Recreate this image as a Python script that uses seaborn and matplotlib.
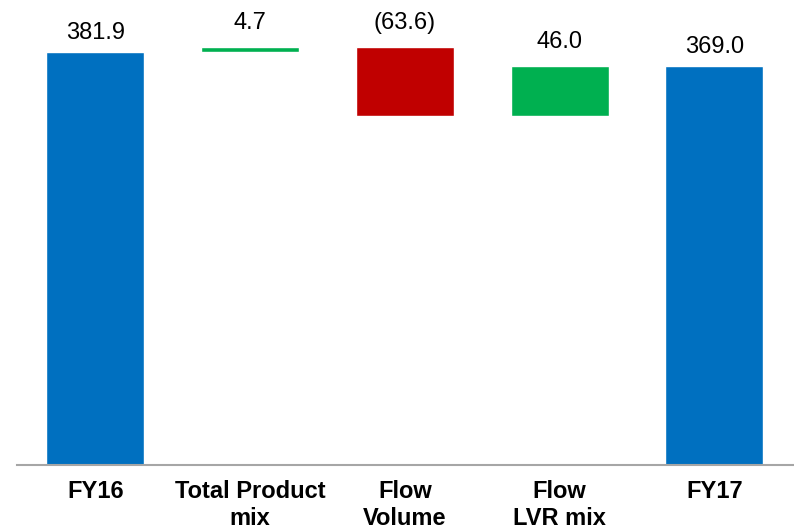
"""
Waterfall chart: FY16 -> FY17 bridge
"""

import numpy as np
import pandas as pd
import matplotlib
matplotlib.use("Agg")
import matplotlib.pyplot as plt
import seaborn as sns

# Chart data
labels = ["FY16", "Total Product\nmix", "Flow\nVolume", "Flow\nLVR mix", "FY17"]
values = [381.9, 4.7, -63.6, 46.0, 369.0]
kinds = ["total", "delta", "delta", "delta", "total"]

BLUE = "#0070C0"
GREEN = "#00B050"
RED = "#C00000"


def build_frame():
    """Work out the floating base and top of every bar"""
    bases, tops, colors = [], [], []
    running = 0.0
    for val, kind in zip(values, kinds):
        if kind == "total":
            bases.append(0.0)
            tops.append(val)
            colors.append(BLUE)
            running = val
        else:
            new = running + val
            bases.append(min(running, new))
            tops.append(max(running, new))
            colors.append(GREEN if val >= 0 else RED)
            running = new
    return pd.DataFrame({"label": labels, "base": bases, "top": tops,
                         "value": values, "kind": kinds, "color": colors})


def fmt(v):
    return f"({abs(v):.1f})" if v < 0 else f"{v:.1f}"


def main():
    df = build_frame()

    sns.set_style("white")
    plt.rcParams["font.family"] = ["Liberation Sans", "DejaVu Sans"]

    fig = plt.figure(figsize=(7.94, 5.30), dpi=100)
    ax = fig.add_axes([17 / 794, 65 / 530, 777 / 794, 465 / 530])

    # coloured bar up to the top, then a white bar hides the part below the base
    sns.barplot(data=df, x="label", y="top", hue="label",
                palette=list(df["color"]), width=0.633, saturation=1,
                legend=False, ax=ax)
    sns.barplot(data=df, x="label", y="base", color="white", width=0.66,
                saturation=1, ax=ax)

    for i, row in df.iterrows():
        off = 9.5 if row["kind"] == "total" else 13
        ax.annotate(fmt(row["value"]), (i, row["top"]), xytext=(0, off),
                    textcoords="offset points", ha="center", va="baseline",
                    fontsize=17, color="black")

    ax.set_xlim(-0.507, 4.514)
    ax.set_ylim(0, 430)
    ax.set_xlabel("")
    ax.set_ylabel("")
    ax.set_yticks([])
    ax.tick_params(axis="x", length=0, pad=11, labelcolor="black")
    for t in ax.get_xticklabels():
        t.set_fontweight("bold")
        t.set_fontsize(17)

    for side in ["left", "right", "top"]:
        ax.spines[side].set_visible(False)
    ax.spines["bottom"].set_color("#A6A6A6")
    ax.spines["bottom"].set_linewidth(1.5)

    fig.savefig("out.png", dpi=100)
    plt.close(fig)


if __name__ == "__main__":
    main()
